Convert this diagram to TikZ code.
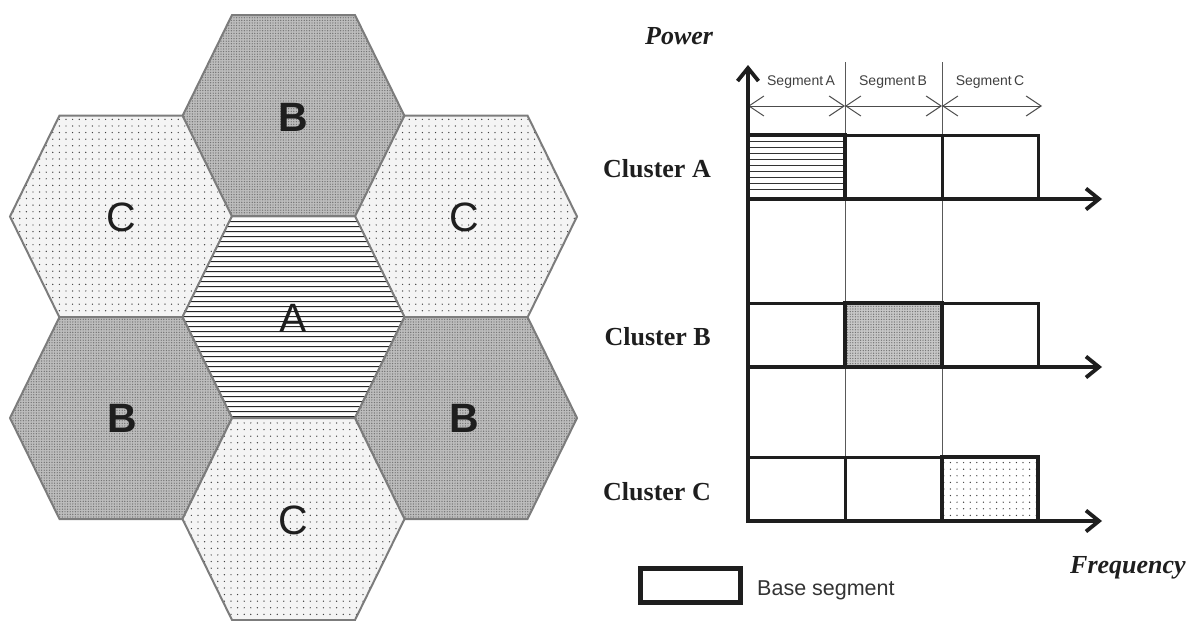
\documentclass[tikz,border=0pt]{standalone}
\usepackage{fontspec}
\setmainfont{Liberation Serif}
\setsansfont{Liberation Sans}
\usetikzlibrary{patterns.meta,arrows.meta}

\definecolor{hexline}{HTML}{7C7C7C}
\definecolor{ink}{HTML}{1E1E1E}
\definecolor{denseback}{HTML}{BDBDBD}
\definecolor{sparseback}{HTML}{F4F4F4}

% one flat-topped cell of the cluster layout, centred on (#2,#3)
\newcommand{\hexcell}[3]{%
  \path[#1, shift={(#2,#3)}]
    (-111,0) -- (-61.5,-101) -- (61.5,-101) -- (111,0)
    -- (61.5,101) -- (-61.5,101) -- cycle;}

\tikzset{
  cellA/.style={draw=hexline, line width=2pt, preaction={fill=white},
    pattern={Lines[angle=0,distance=5.4pt,line width=1.1pt]}, pattern color=black!85},
  cellB/.style={draw=hexline, line width=2pt, preaction={fill=denseback},
    pattern={Dots[distance=2.6pt,radius=0.7pt]}, pattern color=black!55},
  cellC/.style={draw=hexline, line width=2pt, preaction={fill=sparseback},
    pattern={Dots[distance=6.6pt,radius=0.7pt]}, pattern color=black!75},
  celltext/.style={font=\sffamily\fontsize{41}{45}\selectfont, text=ink, inner sep=0pt},
  cellbold/.style={celltext, font=\sffamily\bfseries\fontsize{41}{45}\selectfont},
  axisline/.style={draw=ink, line width=3.8pt,
    -{Straight Barb[length=13pt,width=21pt]}},
  gridrule/.style={draw=black!65, line width=1pt},
  segspan/.style={draw=black!70, line width=1pt,
    {Straight Barb[length=15pt,width=20pt]}-{Straight Barb[length=15pt,width=20pt]}},
  segbox/.style={draw=ink, line width=3pt, inner sep=0pt, outer sep=0pt,
    minimum height=64pt},
  hotbox/.style={segbox, line width=4.5pt},
  hatchrule/.style={draw=black!80, line width=0.9pt},
  densefill/.style={preaction={fill=denseback!85!white},
    pattern={Dots[distance=2.6pt,radius=0.7pt]}, pattern color=black!55},
  sparsefill/.style={preaction={fill=white},
    pattern={Dots[distance=6.6pt,radius=0.7pt]}, pattern color=black!75},
  axislabel/.style={font=\bfseries\itshape\fontsize{26}{30}\selectfont, text=ink, inner sep=0pt},
  rowlabel/.style={font=\bfseries\fontsize{26}{30}\selectfont, text=ink, inner sep=0pt,
    anchor=base east},
  seglabel/.style={font=\sffamily\fontsize{14}{16}\selectfont, text=black!75, inner sep=0pt,
    anchor=base},
}

\begin{document}
\begin{tikzpicture}[x=1pt,y=-1pt]
\useasboundingbox (0,0) rectangle (1203,621);

% ---------------- cell layout ----------------
\hexcell{cellB}{293.5}{116}
\hexcell{cellC}{121}{216.5}
\hexcell{cellC}{466}{216.5}
\hexcell{cellA}{293.5}{317}
\hexcell{cellB}{121}{418}
\hexcell{cellB}{466}{418}
\hexcell{cellC}{293.5}{519}

\node[cellbold] (lblBtop) at (293.5,117) {B};
\node[celltext] (lblCleft) at (121.5,217) {C};
\node[celltext] (lblCright) at (464,217) {C};
\node[celltext] (lblA) at (293.5,318) {A};
\node[cellbold] (lblBleft) at (122,418) {B};
\node[cellbold] (lblBright) at (464,418) {B};
\node[celltext] (lblCbottom) at (293.5,520) {C};

% ---------------- spectrum plot ----------------
\coordinate (origin) at (748,523);
\coordinate (ptip) at (748,65);
\coordinate (r1top) at (845,62);
\coordinate (r1bot) at (845,521);
\coordinate (r2top) at (942,62);
\coordinate (r2bot) at (942,521);
\coordinate (s0) at (748,106);
\coordinate (s1) at (845,106);
\coordinate (s2) at (942,106);
\coordinate (s3) at (1042,106);

% segment boundaries
\draw[gridrule] (r1top) -- (r1bot);
\draw[gridrule] (r2top) -- (r2bot);

% segment widths
\draw[segspan] (s0) -- (s1);
\draw[segspan] (s1) -- (s2);
\draw[segspan] (s2) -- (s3);
\node[seglabel] (segA) at (801,85) {Segment\,A};
\node[seglabel] (segB) at (893,85) {Segment\,B};
\node[seglabel] (segC) at (990,85) {Segment\,C};

% Cluster A row
\node[segbox, minimum width=97pt] (a2) at (893.5,167) {};
\node[segbox, minimum width=96pt] (a3) at (990,167) {};
\fill[white] (748,135) rectangle (845,199);
\foreach \yy in {141.5,147.5,...,195}
  \draw[hatchrule] (748,\yy) -- (845,\yy);
\node[hotbox, minimum width=97pt] (a1) at (796.5,167) {};
\coordinate (ax0) at (746,199);
\coordinate (ax1) at (1102,199);
\draw[axisline] (ax0) -- (ax1);

% Cluster B row
\node[segbox, minimum width=97pt] (b1) at (796.5,335) {};
\node[segbox, minimum width=96pt] (b3) at (990,335) {};
\node[hotbox, densefill, minimum width=97pt] (b2) at (893.5,335) {};
\coordinate (bx0) at (746,367);
\coordinate (bx1) at (1102,367);
\draw[axisline] (bx0) -- (bx1);

% Cluster C row
\node[segbox, minimum width=97pt] (c1) at (796.5,489) {};
\node[segbox, minimum width=97pt] (c2) at (893.5,489) {};
\node[hotbox, sparsefill, minimum width=96pt] (c3) at (990,489) {};
\coordinate (cx0) at (746,521);
\coordinate (cx1) at (1102,521);
\draw[axisline] (cx0) -- (cx1);

% power axis
\draw[axisline] (origin) -- (ptip);

% axis and row labels
\node[axislabel, anchor=base west] (power) at (645,45) {Power};
\node[axislabel, anchor=base west] (freq) at (1070,573) {Frequency};
\node[rowlabel] (rowA) at (711,177) {Cluster A};
\node[rowlabel] (rowB) at (711,345) {Cluster B};
\node[rowlabel] (rowC) at (711,500) {Cluster C};

% legend
\node[hotbox, minimum width=100pt, minimum height=34pt] (legbox) at (690.5,585.5) {};
\node[font=\sffamily\fontsize{21.5}{24}\selectfont, text=black!80, inner sep=0pt,
      anchor=base west] (legtext) at (757,595) {Base segment};
\end{tikzpicture}
\end{document}
